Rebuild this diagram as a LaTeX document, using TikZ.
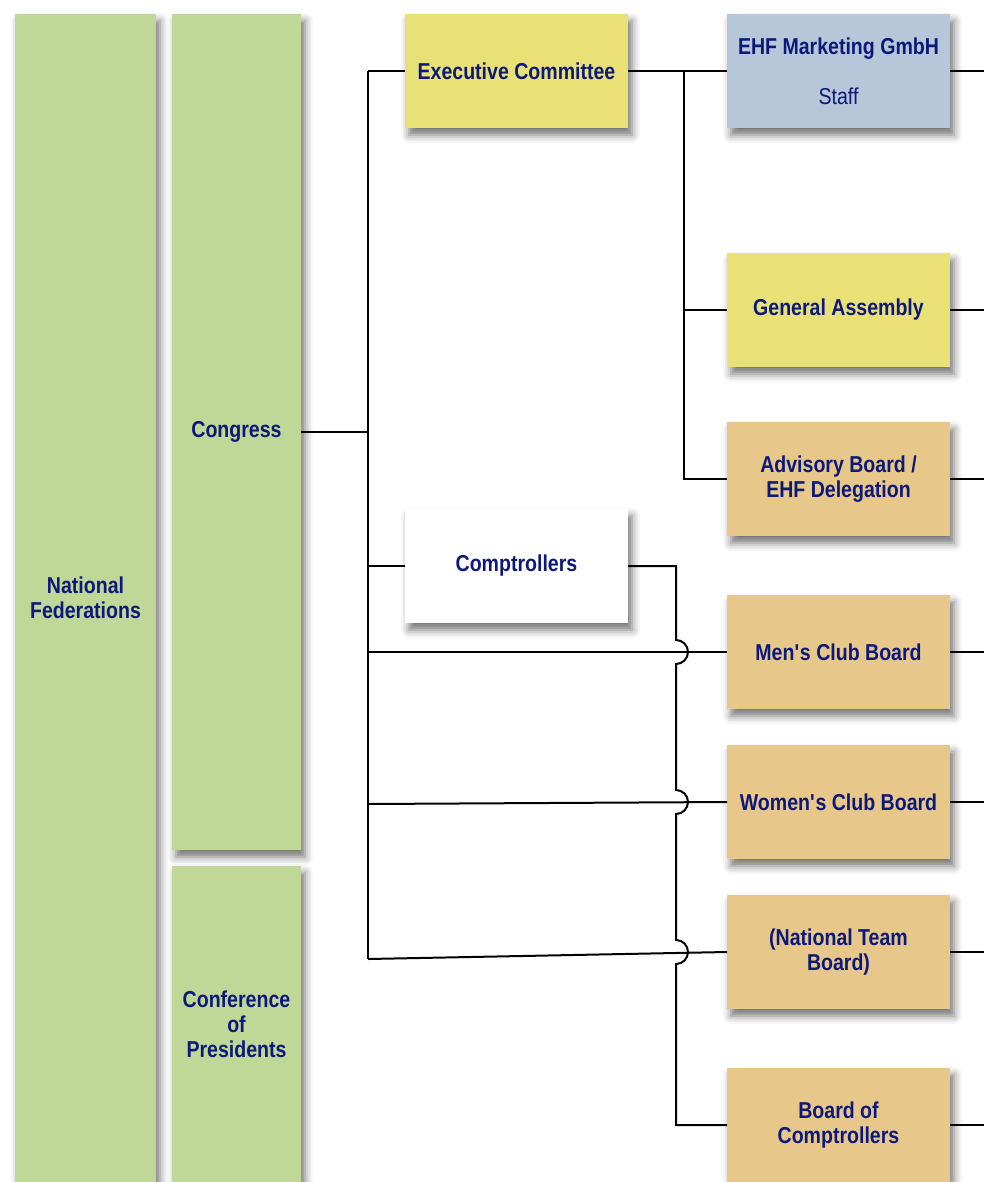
\documentclass[tikz,border=0pt]{standalone}
\usepackage{fontspec}
\setmainfont{Liberation Sans}[FakeStretch=0.85]
\usetikzlibrary{positioning, shadows.blur, calc}
\definecolor{fedGreen}{RGB}{191, 215, 151}
\definecolor{execYellow}{RGB}{233, 225, 118}
\definecolor{staffBlue}{RGB}{181, 199, 216}
\definecolor{boardTan}{RGB}{231, 200, 138}
\definecolor{labelNavy}{RGB}{12, 24, 122}
\tikzset{
    base/.style={rectangle, inner sep=0pt, outer sep=0pt, align=center, text=labelNavy, font=\bfseries\fontsize{23}{25}\selectfont, blur shadow={shadow xshift=4pt, shadow yshift=-7pt, shadow blur radius=8pt, shadow opacity=55}},
    unit/.style={base, minimum width=223pt, minimum height=114pt},
    column/.style={base, fill=fedGreen},
    link/.style={line width=2pt, draw=black}
}
\begin{document}
\begin{tikzpicture}[x=1pt, y=1pt]
    \useasboundingbox (0,0) rectangle (984,-1182);

    % Member columns
    \node (natfed) [column, minimum width=141pt, minimum height=1168pt] at (85.5,-598) {National\\Federations};
    \node (congress) [column, minimum width=129pt, minimum height=836pt] at (236.5,-432) {Congress};
    \node (conference) [column, minimum width=129pt, minimum height=316pt, below=16pt of congress] {Conference\\of\\Presidents};

    % Middle boxes
    \node (exec) [unit, fill=execYellow] at (516.5,-71) {Executive Committee};
    \node (cmp) [unit, fill=white] at (516.5,-566) {Comptrollers};

    % Right boxes
    \node (marketing) [unit, fill=staffBlue, right=99pt of exec] {EHF Marketing GmbH\\[25pt]{\mdseries Staff}};
    \node (general) [unit, fill=execYellow, below=125pt of marketing] {General Assembly};
    \node (advisory) [unit, fill=boardTan, below=55pt of general] {Advisory Board /\\EHF Delegation};
    \node (men) [unit, fill=boardTan, below=59pt of advisory] {Men\textquotesingle s Club Board};
    \node (women) [unit, fill=boardTan, below=36pt of men] {Women\textquotesingle s Club Board};
    \node (natteam) [unit, fill=boardTan, below=36pt of women] {(National Team\\Board)};
    \node (boc) [unit, fill=boardTan, below=59pt of natteam] {Board of\\Comptrollers};

    % Junctions
    \coordinate (spineTop) at (368,-71);
    \coordinate (spineW) at (368,-804);
    \coordinate (spineBot) at (368,-959);
    \coordinate (execBus) at (684,-71);
    \coordinate (cmpBus) at (676,-566);

    % Connecting
    \draw [link] (congress.east) -- (congress.east -| spineTop);
    \draw [link] (spineTop) -- (spineBot);
    \draw [link] (spineTop) -- (exec.west);
    \draw [link] (cmp.west -| spineTop) -- (cmp.west);
    \draw [link] (men.west -| spineTop) -- (men.west);
    \draw [link] (spineW) -- (women.west);
    \draw [link] (spineBot) -- (natteam.west);

    \draw [link] (exec.east) -- (marketing.west);
    \draw [link] (execBus) -- (execBus |- advisory.west) -- (advisory.west);
    \draw [link] (execBus |- general.west) -- (general.west);

    \draw [link] (cmp.east) -- (cmpBus)
        -- ($(men.west -| cmpBus)+(0,12)$) arc[start angle=90, end angle=-90, radius=12pt]
        -- ($(women.west -| cmpBus)+(0,12)$) arc[start angle=90, end angle=-90, radius=12pt]
        -- ($(natteam.west -| cmpBus)+(0,12)$) arc[start angle=90, end angle=-90, radius=12pt]
        -- (cmpBus |- boc.west) -- (boc.west);

    % Outgoing stubs
    \draw [link] (marketing.east) -- ++(34,0);
    \draw [link] (general.east) -- ++(34,0);
    \draw [link] (advisory.east) -- ++(34,0);
    \draw [link] (men.east) -- ++(34,0);
    \draw [link] (women.east) -- ++(34,0);
    \draw [link] (natteam.east) -- ++(34,0);
    \draw [link] (boc.east) -- ++(34,0);

\end{tikzpicture}
\end{document}
